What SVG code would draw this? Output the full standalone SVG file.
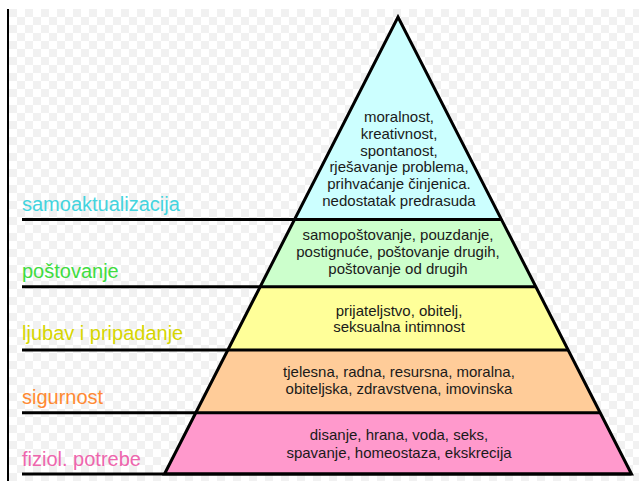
<svg xmlns="http://www.w3.org/2000/svg" width="639" height="481" viewBox="0 0 639 481">
<defs>
<pattern id="chk" x="9" y="9" width="16" height="16" patternUnits="userSpaceOnUse">
<rect width="16" height="16" fill="#ffffff"/>
<rect width="8" height="8" fill="#f1f1f1"/>
<rect x="8" y="8" width="8" height="8" fill="#f1f1f1"/>
</pattern>
<style>
.lbl{font-family:"Liberation Sans",Arial,sans-serif;font-size:20px}
.in{font-family:"Liberation Sans",Arial,sans-serif;font-size:15px;fill:#1a1a1a;text-anchor:middle}
.ln{stroke:#000;stroke-width:3;fill:none}
</style>
</defs>
<rect width="639" height="481" fill="#ffffff"/>
<rect x="9" y="9" width="630" height="472" fill="url(#chk)"/>
<line x1="8" y1="9" x2="8" y2="481" stroke="#000" stroke-width="2"/>

<g id="samoaktualizacija">
<polygon points="398,17 294.5,219.5 501.5,219.5" fill="#ccffff"/>
<text class="in" x="399" y="122">moralnost,</text>
<text class="in" x="399" y="138.8">kreativnost,</text>
<text class="in" x="399" y="155.6">spontanost,</text>
<text class="in" x="399" y="172.4">rješavanje problema,</text>
<text class="in" x="399" y="189.2">prihvaćanje činjenica.</text>
<text class="in" x="399" y="206">nedostatak predrasuda</text>
<text class="lbl" x="22" y="211" fill="#44d4de">samoaktualizacija</text>
</g>
<g id="postovanje">
<polygon points="294.5,219.5 501.5,219.5 535.8,286.7 260.2,286.7" fill="#ccffcc"/>
<text class="in" x="398" y="239.5">samopoštovanje, pouzdanje,</text>
<text class="in" x="398" y="256.5">postignuće, poštovanje drugih,</text>
<text class="in" x="398" y="273.5">poštovanje od drugih</text>
<text class="lbl" x="22" y="277.5" fill="#3fdc3f">poštovanje</text>
</g>
<g id="ljubav">
<polygon points="260.2,286.7 535.8,286.7 568.1,350 227.9,350" fill="#ffff99"/>
<text class="in" x="399" y="316">prijateljstvo, obitelj,</text>
<text class="in" x="399" y="332">seksualna intimnost</text>
<text class="lbl" x="22" y="340" fill="#d6d600">ljubav i pripadanje</text>
</g>
<g id="sigurnost">
<polygon points="227.9,350 568.1,350 600.2,412.7 195.8,412.7" fill="#ffcc99"/>
<text class="in" x="399" y="377">tjelesna, radna, resursna, moralna,</text>
<text class="in" x="399" y="394">obiteljska, zdravstvena, imovinska</text>
<text class="lbl" x="22" y="403.5" fill="#ff8a33">sigurnost</text>
</g>
<g id="fiziol">
<polygon points="195.8,412.7 600.2,412.7 631.5,474 164.5,474" fill="#ff99cc"/>
<text class="in" x="399" y="440">disanje, hrana, voda, seks,</text>
<text class="in" x="399" y="457.5">spavanje, homeostaza, ekskrecija</text>
<text class="lbl" x="22" y="466" fill="#ee66ad">fiziol. potrebe</text>
</g>

<g id="connectors">
<line class="ln" x1="22" y1="219.5" x2="501.5" y2="219.5"/>
<line class="ln" x1="22" y1="286.7" x2="535.8" y2="286.7"/>
<line class="ln" x1="22" y1="350" x2="568.1" y2="350"/>
<line class="ln" x1="22" y1="412.7" x2="600.2" y2="412.7"/>
<line class="ln" x1="22" y1="474" x2="631.5" y2="474"/>
<path class="ln" d="M164.5,474 L398,17 L631.5,474 Z" stroke-linejoin="miter" stroke-miterlimit="10"/>
</g>
</svg>
